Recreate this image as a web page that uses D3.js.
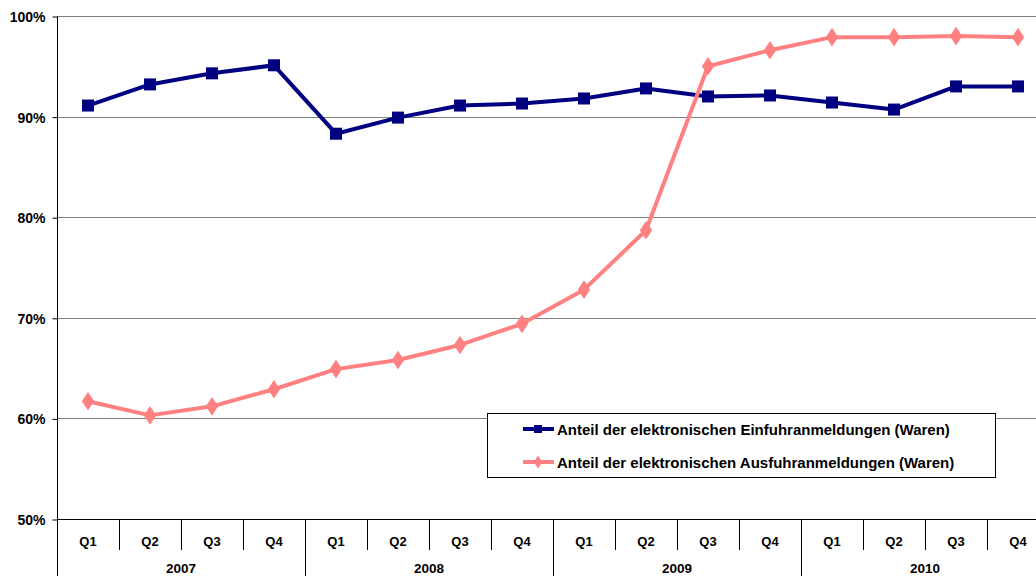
<!DOCTYPE html>
<html>
<head>
<meta charset="utf-8">
<script src="https://cdn.jsdelivr.net/npm/d3@7"></script>
<style>
  html, body { margin: 0; padding: 0; background: #fff; }
  svg { display: block; }
  text { font-family: "Liberation Sans", Arial, sans-serif; font-weight: bold; fill: #000; }
</style>
</head>
<body>
<svg id="chart" width="1036" height="576"></svg>
<script>
// Quarterly share of electronic customs declarations, 2007–2010
const years = ["2007", "2008", "2009", "2010"];
const quarters = ["Q1", "Q2", "Q3", "Q4"];
const yTicks = [50, 60, 70, 80, 90, 100];

const importShare = [91.1, 93.2, 94.3, 95.1, 88.3, 89.9, 91.1, 91.3, 91.8, 92.8, 92.0, 92.1, 91.4, 90.7, 93.0, 93.0];
const exportShare = [61.7, 60.3, 61.2, 62.9, 64.9, 65.8, 67.3, 69.4, 72.8, 78.7, 95.0, 96.6, 97.9, 97.9, 98.0, 97.9];

const seriesNames = [
  "Anteil der elektronischen Einfuhranmeldungen (Waren)",
  "Anteil der elektronischen Ausfuhranmeldungen (Waren)"
];
const seriesColors = ["#000080", "#FF8080"];

const periods = [];
years.forEach(yr => quarters.forEach(q => periods.push(yr + "-" + q)));

const svg = d3.select("#chart");
const plotLeft = 57, plotTop = 16, plotBottom = 519;
const band = 62;
const plotRight = plotLeft + band * periods.length;

const x = d3.scaleBand().domain(periods).range([plotLeft, plotRight]).paddingInner(0).paddingOuter(0);
const y = d3.scaleLinear().domain([50, 100]).range([plotBottom, plotTop]);

// Horizontal gridlines
svg.append("g").selectAll("line").data(yTicks.filter(t => t > 50)).join("line")
  .attr("x1", plotLeft).attr("x2", 1036)
  .attr("y1", d => Math.round(y(d)) + 0.5).attr("y2", d => Math.round(y(d)) + 0.5)
  .attr("stroke", "#808080").attr("stroke-width", 1);

// Y axis
const yAxis = d3.axisLeft(y).tickValues(yTicks).tickSize(5).tickFormat(d => d + "%");
const gy = svg.append("g").attr("transform", `translate(${plotLeft + 0.5},0.5)`).call(yAxis);
gy.select(".domain").attr("stroke", "#000").attr("d", `M0,${plotTop}V${plotBottom}`);
gy.selectAll(".tick line").attr("stroke", "#000");
gy.selectAll(".tick text").attr("x", -12).attr("dy", "0.36em")
  .style("font-size", "14px").style("font-family", "'Liberation Sans', Arial, sans-serif")
  .style("font-weight", "bold").attr("fill", "#000");

// X axis baseline
svg.append("line").attr("x1", plotLeft).attr("x2", 1036)
  .attr("y1", plotBottom + 0.5).attr("y2", plotBottom + 0.5).attr("stroke", "#000");

// Quarter separators and labels
const gx = svg.append("g");
periods.forEach((p, i) => {
  const x0 = x(p);
  const isYearStart = i % 4 === 0;
  gx.append("line")
    .attr("x1", Math.round(x0) + 0.5).attr("x2", Math.round(x0) + 0.5)
    .attr("y1", plotBottom).attr("y2", isYearStart ? 576 : 550)
    .attr("stroke", "#000");
  gx.append("text")
    .attr("x", x0 + x.bandwidth() / 2).attr("y", 546)
    .attr("text-anchor", "middle").style("font-size", "13px")
    .text(quarters[i % 4]);
});
years.forEach(yr => {
  const x0 = x(yr + "-Q1");
  gx.append("text")
    .attr("x", x0 + band * 2).attr("y", 573)
    .attr("text-anchor", "middle").style("font-size", "13.5px")
    .text(yr);
});

// Series lines and markers
const line = d3.line().x((d, i) => x(periods[i]) + x.bandwidth() / 2).y(d => y(d));
const squareSym = d3.symbol().type(d3.symbolSquare).size(144);
const diamondSym = d3.symbol().type(d3.symbolDiamond).size(100);

[importShare, exportShare].forEach((vals, k) => {
  svg.append("path").datum(vals).attr("d", line)
    .attr("fill", "none").attr("stroke", seriesColors[k]).attr("stroke-width", 4)
    .attr("stroke-linejoin", "round");
  svg.append("g").selectAll("path").data(vals).join("path")
    .attr("transform", (d, i) => `translate(${x(periods[i]) + x.bandwidth() / 2},${y(d)})` + (k === 1 ? " scale(1.15,1)" : ""))
    .attr("d", k === 0 ? squareSym : diamondSym)
    .attr("fill", seriesColors[k]);
});

// Legend
const lg = svg.append("g");
lg.append("rect").attr("x", 487.5).attr("y", 413.5).attr("width", 508).attr("height", 64)
  .attr("fill", "#fff").attr("stroke", "#000").attr("stroke-width", 1);
seriesNames.forEach((name, k) => {
  const ly = 429 + k * 33;
  lg.append("line").attr("x1", 523).attr("x2", 554).attr("y1", ly).attr("y2", ly)
    .attr("stroke", seriesColors[k]).attr("stroke-width", 4);
  lg.append("path")
    .attr("transform", `translate(538,${ly})` + (k === 1 ? " scale(1.1,1)" : ""))
    .attr("d", k === 0 ? d3.symbol().type(d3.symbolSquare).size(64)() : d3.symbol().type(d3.symbolDiamond).size(50)())
    .attr("fill", seriesColors[k]);
  lg.append("text").attr("x", 557).attr("y", ly + 5.5).style("font-size", "15px").text(name);
});
</script>
</body>
</html>
